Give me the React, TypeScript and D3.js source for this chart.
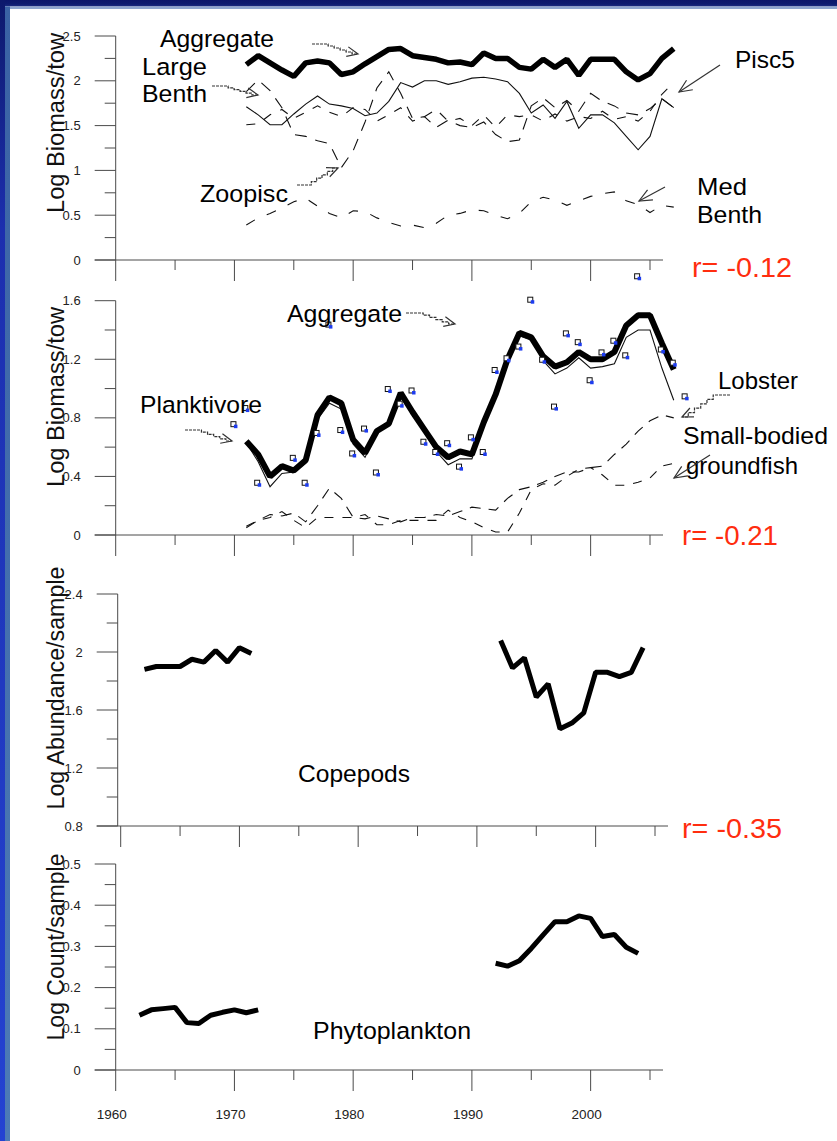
import React from "react";
import * as d3 from "d3";

// ---- survey years -------------------------------------------------------
const fishYears = [
  1971, 1972, 1973, 1974, 1975, 1976, 1977, 1978, 1979, 1980,
  1981, 1982, 1983, 1984, 1985, 1986, 1987, 1988, 1989, 1990,
  1991, 1992, 1993, 1994, 1995, 1996, 1997, 1998, 1999, 2000,
  2001, 2002, 2003, 2004, 2005, 2006, 2007,
];

// ---- panel 1: benthivore / piscivore groups (log biomass per tow) --------
const aggregateTop = [
  2.18, 2.28, 2.2, 2.12, 2.05, 2.2, 2.22, 2.2, 2.07, 2.1,
  2.19, 2.27, 2.35, 2.36, 2.28, 2.26, 2.24, 2.2, 2.21, 2.18,
  2.31, 2.25, 2.25, 2.15, 2.13, 2.24, 2.15, 2.24, 2.06, 2.24,
  2.24, 2.24, 2.1, 2.01, 2.08, 2.25, 2.36,
];
const largeBenth = [
  1.71, 1.62, 1.51, 1.51, 1.63, 1.74, 1.83, 1.74, 1.72, 1.69,
  1.61, 1.64, 1.77, 1.98, 1.93, 2.0, 2.0, 1.96, 1.99, 2.03,
  2.04, 2.02, 1.99, 1.86, 1.64, 1.73, 1.58, 1.77, 1.47, 1.62,
  1.62, 1.53, 1.38, 1.23, 1.38, 1.8, 1.7,
];
const zoopisc = [
  1.88, 2.01, 1.89, 1.7, 1.4, 1.38, 1.33, 1.3, 1.03, 1.22,
  1.54, 1.92, 2.1, 1.86, 1.58, 1.6, 1.48, 1.56, 1.5, 1.48,
  1.54, 1.4, 1.32, 1.34, 1.72, 1.81, 1.7, 1.78, 1.66, 1.86,
  1.77, 1.72, 1.64, 1.62, 1.69, 1.8, 1.7,
];
const pisc5 = [
  1.51, 1.52, 1.62, 1.68, 1.58, 1.65, 1.72, 1.65, 1.6, 1.7,
  1.68, 1.55, 1.62, 1.7, 1.55, 1.6, 1.68, 1.55, 1.58, 1.5,
  1.62, 1.48, 1.62, 1.6, 1.62, 1.55, 1.63, 1.55, 1.6, 1.58,
  1.66, 1.57, 1.6, 1.55, 1.66, 1.85, 1.98,
];
const medBenth = [
  0.39, 0.47, 0.52, 0.58, 0.65, 0.69, 0.6, 0.52, 0.47, 0.55,
  0.54, 0.47, 0.42, 0.38, 0.39, 0.36, 0.41, 0.5, 0.52, 0.56,
  0.55, 0.5, 0.46, 0.52, 0.65, 0.7, 0.67, 0.61, 0.66, 0.71,
  0.74, 0.76, 0.66, 0.62, 0.53, 0.61, 0.59,
];

// ---- panel 2: planktivores and small fish (log biomass per tow) ----------
const aggregateMid = [
  0.64, 0.55, 0.4, 0.47, 0.44, 0.51, 0.82, 0.94, 0.9, 0.65,
  0.56, 0.71, 0.76, 0.97, 0.84, 0.72, 0.6, 0.53, 0.57, 0.55,
  0.77, 0.96, 1.2, 1.38, 1.35, 1.22, 1.15, 1.18, 1.25, 1.2,
  1.2, 1.25, 1.43, 1.5, 1.5, 1.31, 1.13,
];
const planktivore = [
  0.63, 0.5, 0.33, 0.42, 0.43, 0.49, 0.79, 0.9, 0.86, 0.62,
  0.53, 0.7, 0.75, 0.95, 0.82, 0.7, 0.57, 0.48, 0.52, 0.52,
  0.75, 0.94, 1.18, 1.36, 1.33, 1.19, 1.1, 1.14, 1.21, 1.14,
  1.15, 1.17, 1.35, 1.4, 1.4, 1.14, 0.92,
];
const lobster = [
  0.05, 0.1, 0.14, 0.13, 0.15, 0.09, 0.2, 0.32, 0.25, 0.12,
  0.11, 0.13, 0.11, 0.09, 0.12, 0.12, 0.14, 0.13, 0.16, 0.19,
  0.18, 0.17, 0.25, 0.31, 0.33, 0.36, 0.4, 0.43, 0.43, 0.46,
  0.47, 0.55, 0.62, 0.71, 0.78, 0.82, 0.8,
];
const smallBodied = [
  0.06, 0.1, 0.12, 0.16, 0.1, 0.05, 0.12, 0.12, 0.12, 0.12,
  0.14, 0.07, 0.07, 0.1, 0.1, 0.1, 0.1, 0.17, 0.12, 0.09,
  0.05, 0.02, 0.02, 0.15, 0.31, 0.35, 0.34, 0.4, 0.45, 0.46,
  0.41, 0.34, 0.34, 0.36, 0.39, 0.47, 0.49,
];
const indexYears = [
  1970, 1971, 1972, 1975, 1976, 1977, 1978, 1979, 1980, 1981,
  1982, 1983, 1984, 1985, 1986, 1987, 1988, 1989, 1990, 1991,
  1992, 1993, 1994, 1995, 1996, 1997, 1998, 1999, 2000, 2001,
  2002, 2003, 2004, 2006, 2007, 2008,
];
const indexValues = [
  0.75, 0.86, 0.35, 0.52, 0.35, 0.69, 1.43, 0.71, 0.55, 0.72,
  0.42, 0.99, 0.89, 0.98, 0.63, 0.56, 0.62, 0.46, 0.66, 0.56,
  1.12, 1.2, 1.28, 1.6, 1.19, 0.87, 1.37, 1.31, 1.05, 1.24,
  1.32, 1.22, 1.76, 1.26, 1.17, 0.94,
];

// ---- panel 3: copepods (log abundance per sample) ------------------------
const copepodYearsEarly = [1962, 1963, 1964, 1965, 1966, 1967, 1968, 1969, 1970, 1971];
const copepodEarly = [1.88, 1.9, 1.9, 1.9, 1.95, 1.93, 2.01, 1.93, 2.03, 1.99];
const copepodYearsLate = [1992, 1993, 1994, 1995, 1996, 1997, 1998, 1999, 2000, 2001, 2002, 2003, 2004];
const copepodLate = [2.08, 1.89, 1.96, 1.69, 1.78, 1.47, 1.51, 1.58, 1.86, 1.86, 1.83, 1.86, 2.03];

// ---- panel 4: phytoplankton (log count per sample) -----------------------
const phytoYearsEarly = [1962, 1963, 1964, 1965, 1966, 1967, 1968, 1969, 1970, 1971, 1972];
const phytoEarly = [0.133, 0.146, 0.149, 0.152, 0.115, 0.113, 0.133, 0.14, 0.146, 0.139, 0.146];
const phytoYearsLate = [1992, 1993, 1994, 1995, 1996, 1997, 1998, 1999, 2000, 2001, 2002, 2003, 2004];
const phytoLate = [0.259, 0.252, 0.265, 0.295, 0.328, 0.36, 0.36, 0.374, 0.368, 0.324, 0.329, 0.298, 0.283];

// ---- axis ticks ----------------------------------------------------------
const decadeTicks = [1960, 1970, 1980, 1990, 2000];
const halfDecadeTicks = [1965, 1975, 1985, 1995, 2005];

const FONT = "'Liberation Sans', Arial, Helvetica, sans-serif";
const RED = "#ff2d0f";
const INK = "#111";
const AXIS = "#4a4a4a";

type Panel = {
  top: number;
  bottom: number;
  domain: [number, number];
  major: number[];
  minor: number[];
  axisX: number;
  shift: number;
  xEnd: number;
  title: string;
  titleY: number;
  titleLen: number;
  corr?: { text: string; x: number; y: number; w: number };
};

const panels: Panel[] = [
  {
    top: 36, bottom: 260, domain: [0, 2.5],
    major: [0, 0.5, 1, 1.5, 2, 2.5], minor: [0.25, 0.75, 1.25, 1.75, 2.25],
    axisX: 115.7, shift: 0, xEnd: 663,
    title: "Log Biomass/tow", titleY: 123, titleLen: 180,
    corr: { text: "r= -0.12", x: 692, y: 277, w: 100 },
  },
  {
    top: 300.7, bottom: 535, domain: [0, 1.6],
    major: [0, 0.4, 0.8, 1.2, 1.6], minor: [0.2, 0.6, 1.0, 1.4],
    axisX: 115.7, shift: 0, xEnd: 663,
    title: "Log Biomass/tow", titleY: 397, titleLen: 180,
    corr: { text: "r= -0.21", x: 682, y: 545, w: 96 },
  },
  {
    top: 594, bottom: 826, domain: [0.8, 2.4],
    major: [0.8, 1.2, 1.6, 2, 2.4], minor: [1.0, 1.4, 1.8, 2.2],
    axisX: 117.7, shift: 5, xEnd: 668,
    title: "Log Abundance/sample", titleY: 688, titleLen: 243,
    corr: { text: "r= -0.35", x: 682, y: 838, w: 100 },
  },
  {
    top: 864, bottom: 1070, domain: [0, 0.5],
    major: [0, 0.1, 0.2, 0.3, 0.4, 0.5], minor: [0.05, 0.15, 0.25, 0.35, 0.45],
    axisX: 115.7, shift: 0, xEnd: 663,
    title: "Log Count/sample", titleY: 947, titleLen: 187,
  },
];

// in-plot captions (text, left x, baseline y, width)
const captions: { panel: number; text: string; x: number; y: number; w: number }[] = [
  { panel: 0, text: "Aggregate", x: 160, y: 47, w: 114 },
  { panel: 0, text: "Large", x: 142, y: 75, w: 65 },
  { panel: 0, text: "Benth", x: 142, y: 102, w: 65 },
  { panel: 0, text: "Zoopisc", x: 200, y: 202, w: 88 },
  { panel: 0, text: "Pisc5", x: 735, y: 67.5, w: 60 },
  { panel: 0, text: "Med", x: 697, y: 195, w: 50 },
  { panel: 0, text: "Benth", x: 697, y: 222.7, w: 65 },
  { panel: 1, text: "Aggregate", x: 287, y: 321.7, w: 115 },
  { panel: 1, text: "Planktivore", x: 140, y: 413, w: 122 },
  { panel: 1, text: "Lobster", x: 718, y: 388.5, w: 80 },
  { panel: 1, text: "Small-bodied", x: 683, y: 444, w: 145 },
  { panel: 1, text: "groundfish", x: 686, y: 474, w: 112 },
  { panel: 2, text: "Copepods", x: 298, y: 781.7, w: 112 },
  { panel: 3, text: "Phytoplankton", x: 313, y: 1039.3, w: 158 },
];

// pointer arrows from captions to their series
const pointers: { from: [number, number]; to: [number, number]; stair: boolean }[] = [
  { from: [312, 44], to: [358, 54], stair: true },
  { from: [212, 86], to: [258, 95], stair: true },
  { from: [297, 185], to: [338, 168], stair: true },
  { from: [720, 65], to: [679, 92], stair: false },
  { from: [665, 187], to: [639, 201], stair: false },
  { from: [406, 313], to: [455, 324], stair: true },
  { from: [185, 430], to: [232, 441], stair: true },
  { from: [730, 395], to: [682, 417], stair: true },
  { from: [710, 455], to: [674, 478], stair: false },
];

function stairPath(from: [number, number], to: [number, number]) {
  const [x0, y0] = from;
  const [x1, y1] = to;
  const xa = x0 + (x1 - x0) * 0.35;
  const steps = 5;
  let d = `M${x0},${y0} H${xa}`;
  for (let i = 1; i <= steps; i++) {
    d += ` V${y0 + ((y1 - y0) * i) / steps} H${xa + ((x1 - xa) * i) / steps}`;
  }
  return d;
}

function headPath(from: [number, number], to: [number, number], len: number) {
  const a = Math.atan2(to[1] - from[1], to[0] - from[0]);
  const phi = 0.42;
  const p1 = [to[0] - len * Math.cos(a - phi), to[1] - len * Math.sin(a - phi)];
  const p2 = [to[0] - len * Math.cos(a + phi), to[1] - len * Math.sin(a + phi)];
  return `M${p1[0]},${p1[1]} L${to[0]},${to[1]} L${p2[0]},${p2[1]}`;
}

export default function App() {
  const baseX = d3.scaleLinear().domain([1960, 2005]).range([115.7, 650]);
  const xFor = (p: Panel) => baseX.copy().range([115.7 + p.shift, 650 + p.shift]);
  const yFor = (p: Panel) => d3.scaleLinear().domain(p.domain).range([p.bottom, p.top]);

  const seriesPath = (p: Panel, years: number[], values: number[]) => {
    const xs = xFor(p);
    const ys = yFor(p);
    return (
      d3
        .line<[number, number]>()
        .x((d) => xs(d[0]))
        .y((d) => ys(d[1]))(years.map((yr, i) => [yr, values[i]] as [number, number])) || ""
    );
  };

  const thin = (d: string, dash?: string) => (
    <path d={d} fill="none" stroke={INK} strokeWidth={1.1} strokeDasharray={dash} />
  );
  const thick = (d: string, w = 5.5) => (
    <path d={d} fill="none" stroke="#000" strokeWidth={w} strokeLinejoin="bevel" strokeLinecap="butt" />
  );

  const [p1, p2, p3, p4] = panels;
  const x2 = xFor(p2);
  const y2 = yFor(p2);

  return (
    <svg
      width={837}
      height={1141}
      viewBox="0 0 837 1141"
      style={{ position: "absolute", left: 0, top: 0, display: "block" }}
      fontFamily={FONT}
    >
      <defs>
        <linearGradient id="edgeOuter" x1="0" y1="0" x2="0" y2="1">
          <stop offset="0" stopColor="#0d196c" />
          <stop offset="0.2" stopColor="#1c2fae" />
          <stop offset="1" stopColor="#2443d2" />
        </linearGradient>
        <linearGradient id="edgeInner" x1="0" y1="0" x2="0" y2="1">
          <stop offset="0" stopColor="#3a62a4" />
          <stop offset="1" stopColor="#4d7bb6" />
        </linearGradient>
        <linearGradient id="topBand" x1="0" y1="0" x2="0" y2="1">
          <stop offset="0" stopColor="#0b166a" />
          <stop offset="0.6" stopColor="#0d1b70" />
          <stop offset="1" stopColor="#1b2c80" />
        </linearGradient>
      </defs>

      {/* slide frame */}
      <rect x={0} y={0} width={837} height={1141} fill="#fff" />
      <rect x={0} y={0} width={837} height={6.5} fill="url(#topBand)" />
      <rect x={0} y={6.5} width={837} height={2.5} fill="#8ea6cf" />
      <rect x={0} y={0} width={5} height={1141} fill="url(#edgeOuter)" />
      <rect x={5} y={6.5} width={5} height={1134.5} fill="url(#edgeInner)" />

      {/* axes */}
      {panels.map((p, pi) => {
        const xs = xFor(p);
        const ys = yFor(p);
        return (
          <g key={`axes-${pi}`} stroke={AXIS} strokeWidth={1}>
            <line x1={p.axisX} x2={p.axisX} y1={p.top} y2={p.bottom} />
            <line x1={p.axisX - 21} x2={p.xEnd} y1={p.bottom} y2={p.bottom} />
            {p.major.map((v) => (
              <line key={`ma${v}`} x1={p.axisX - 21} x2={p.axisX} y1={ys(v)} y2={ys(v)} />
            ))}
            {p.minor.map((v) => (
              <line key={`mi${v}`} x1={p.axisX - 11} x2={p.axisX} y1={ys(v)} y2={ys(v)} />
            ))}
            {decadeTicks.map((t) => (
              <line key={`xd${t}`} x1={xs(t)} x2={xs(t)} y1={p.bottom} y2={p.bottom + 21} />
            ))}
            {halfDecadeTicks.map((t) => (
              <line key={`xh${t}`} x1={xs(t)} x2={xs(t)} y1={p.bottom} y2={p.bottom + 10} />
            ))}
            <g stroke="none" fill="#222" fontSize={13} textAnchor="end">
              {p.major.map((v) => (
                <text key={`tl${v}`} x={p.axisX - 35} y={ys(v) + 4.6}>
                  {String(v)}
                </text>
              ))}
            </g>
            <text
              stroke="none"
              fill="#111"
              fontSize={23}
              textAnchor="middle"
              textLength={p.titleLen}
              lengthAdjust="spacingAndGlyphs"
              transform={`translate(64,${p.titleY}) rotate(-90)`}
            >
              {p.title}
            </text>
            {p.corr && (
              <text
                stroke="none"
                fill={RED}
                fontSize={27}
                x={p.corr.x}
                y={p.corr.y}
                textLength={p.corr.w}
                lengthAdjust="spacingAndGlyphs"
              >
                {p.corr.text}
              </text>
            )}
          </g>
        );
      })}

      {/* year labels along the bottom axis */}
      <g fill="#222" fontSize={13.5} textAnchor="middle">
        {decadeTicks.map((t) => (
          <text key={`yl${t}`} x={xFor(p4)(t) - 4} y={1119}>
            {t}
          </text>
        ))}
      </g>

      {/* panel 1 series */}
      {thin(seriesPath(p1, fishYears, medBenth), "10,13")}
      {thin(seriesPath(p1, fishYears, pisc5), "9,10")}
      {thin(seriesPath(p1, fishYears, zoopisc), "12,9")}
      {thin(seriesPath(p1, fishYears, largeBenth))}
      {thick(seriesPath(p1, fishYears, aggregateTop), 5.5)}

      {/* panel 2 series */}
      {thin(seriesPath(p2, fishYears, smallBodied), "9,9")}
      {thin(seriesPath(p2, fishYears, lobster), "11,8")}
      {thin(seriesPath(p2, fishYears, planktivore))}
      {thick(seriesPath(p2, fishYears, aggregateMid), 6)}
      <g>
        {indexYears.map((yr, i) => {
          const px = x2(yr);
          const py = y2(indexValues[i]);
          return (
            <g key={`pt${yr}`}>
              <rect x={px - 3.5} y={py - 3.5} width={5} height={5} fill="#fff" stroke="#111" strokeWidth={1} />
              <rect x={px - 0.5} y={py - 0.5} width={3.5} height={3.5} fill="#1d3cf0" />
            </g>
          );
        })}
      </g>

      {/* panel 3 series */}
      {thick(seriesPath(p3, copepodYearsEarly, copepodEarly), 5)}
      {thick(seriesPath(p3, copepodYearsLate, copepodLate), 5)}

      {/* panel 4 series */}
      {thick(seriesPath(p4, phytoYearsEarly, phytoEarly), 5)}
      {thick(seriesPath(p4, phytoYearsLate, phytoLate), 5)}

      {/* captions */}
      <g fill="#000" fontSize={24.5}>
        {captions.map((c, i) => (
          <text key={`cap${i}`} x={c.x} y={c.y} textLength={c.w} lengthAdjust="spacingAndGlyphs">
            {c.text}
          </text>
        ))}
      </g>

      {/* pointers */}
      <g fill="none" stroke="#333" strokeWidth={1.2}>
        {pointers.map((a, i) => (
          <g key={`ptr${i}`}>
            {a.stair ? (
              <path d={stairPath(a.from, a.to)} strokeDasharray="3,1" />
            ) : (
              <line x1={a.from[0]} y1={a.from[1]} x2={a.to[0]} y2={a.to[1]} />
            )}
            <path d={headPath(a.from, a.to, a.stair ? 12 : 14)} />
          </g>
        ))}
      </g>
    </svg>
  );
}
